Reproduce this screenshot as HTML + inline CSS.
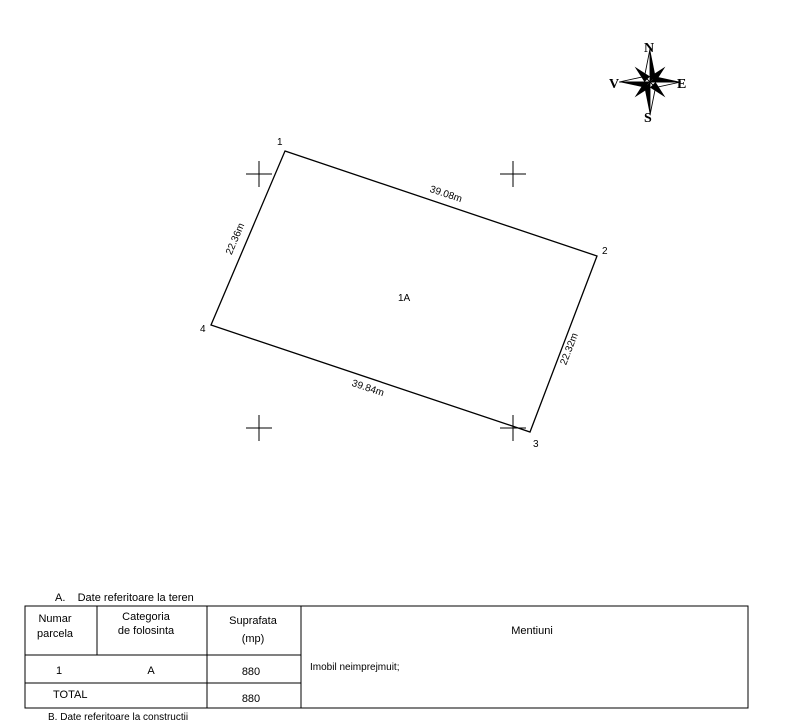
<!DOCTYPE html>
<html><head><style>
body{margin:0;background:#fff;width:798px;height:720px;overflow:hidden;font-family:"Liberation Sans",sans-serif;}
</style></head><body>
<svg width="798" height="720" viewBox="0 0 798 720" xmlns="http://www.w3.org/2000/svg" font-family="Liberation Sans, sans-serif">
<polygon points="285,151 597,256 530,432 211,325" fill="none" stroke="#000" stroke-width="1.3"/>
<g stroke="#000" stroke-width="1">
<line x1="246" y1="174" x2="272" y2="174"/><line x1="259" y1="161" x2="259" y2="187"/>
<line x1="500" y1="174" x2="526" y2="174"/><line x1="513" y1="161" x2="513" y2="187"/>
<line x1="246" y1="428" x2="272" y2="428"/><line x1="259" y1="415" x2="259" y2="441"/>
<line x1="500" y1="428" x2="526" y2="428"/><line x1="513" y1="415" x2="513" y2="441"/>
</g>
<g font-size="10" fill="#000">
<text x="277" y="145">1</text>
<text x="602" y="254">2</text>
<text x="533" y="447">3</text>
<text x="200" y="332">4</text>
<text x="398" y="301">1A</text>
<text x="445" y="197" transform="rotate(18.6 445 197)" text-anchor="middle">39.08m</text>
<text x="367" y="391" transform="rotate(18.6 367 391)" text-anchor="middle">39.84m</text>
<text x="238" y="240" transform="rotate(-67 238 240)" text-anchor="middle">22.36m</text>
<text x="572" y="350" transform="rotate(-69 572 350)" text-anchor="middle">22.32m</text>
</g>
<g transform="translate(650,82) scale(1.1)">
<polygon points="0,-30 5,-5 0,0" fill="#000"/><polygon points="0,-30 -5,-5 0,0" fill="#fff" stroke="#000" stroke-width="0.8"/>
<polygon points="0,30 -5,5 0,0" fill="#000"/><polygon points="0,30 5,5 0,0" fill="#fff" stroke="#000" stroke-width="0.8"/>
<polygon points="-28,0 -5,5 0,0" fill="#000"/><polygon points="-28,0 -5,-5 0,0" fill="#fff" stroke="#000" stroke-width="0.8"/>
<polygon points="28,0 5,-5 0,0" fill="#000"/><polygon points="28,0 5,5 0,0" fill="#fff" stroke="#000" stroke-width="0.8"/>
<polygon points="-14,-14 0,-5 -5,0" fill="#000"/><polygon points="14,-14 5,0 0,-5" fill="#000"/>
<polygon points="14,14 0,5 5,0" fill="#000"/><polygon points="-14,14 -5,0 0,5" fill="#000"/>
</g>
<g font-family="Liberation Serif, serif" font-weight="bold" font-size="14" fill="#000">
<text x="644" y="52">N</text><text x="644" y="122">S</text><text x="609" y="88">V</text><text x="677" y="88">E</text>
</g>
<g font-size="11" fill="#000">
<text x="55" y="601">A.&#160;&#160;&#160;&#160;Date referitoare la teren</text>
</g>
<g stroke="#000" stroke-width="1" fill="none">
<rect x="25" y="606" width="723" height="102"/>
<line x1="97" y1="606" x2="97" y2="655"/>
<line x1="207" y1="606" x2="207" y2="708"/>
<line x1="301" y1="606" x2="301" y2="708"/>
<line x1="25" y1="655" x2="301" y2="655"/>
<line x1="25" y1="683" x2="301" y2="683"/>
</g>
<g font-size="11" fill="#000" text-anchor="middle">
<text x="55" y="622">Numar</text><text x="55" y="637">parcela</text>
<text x="146" y="620">Categoria</text><text x="146" y="634">de folosinta</text>
<text x="253" y="624">Suprafata</text><text x="253" y="642">(mp)</text>
<text x="532" y="634">Mentiuni</text>
<text x="59" y="674">1</text><text x="151" y="674">A</text><text x="251" y="675">880</text>
<text x="251" y="702">880</text>
</g>
<g font-size="10" fill="#000">
<text x="53" y="698" font-size="11">TOTAL</text>
<text x="310" y="670">Imobil neimprejmuit;</text>
<text x="48" y="720">B. Date referitoare la constructii</text>
</g>
</svg>
</body></html>
